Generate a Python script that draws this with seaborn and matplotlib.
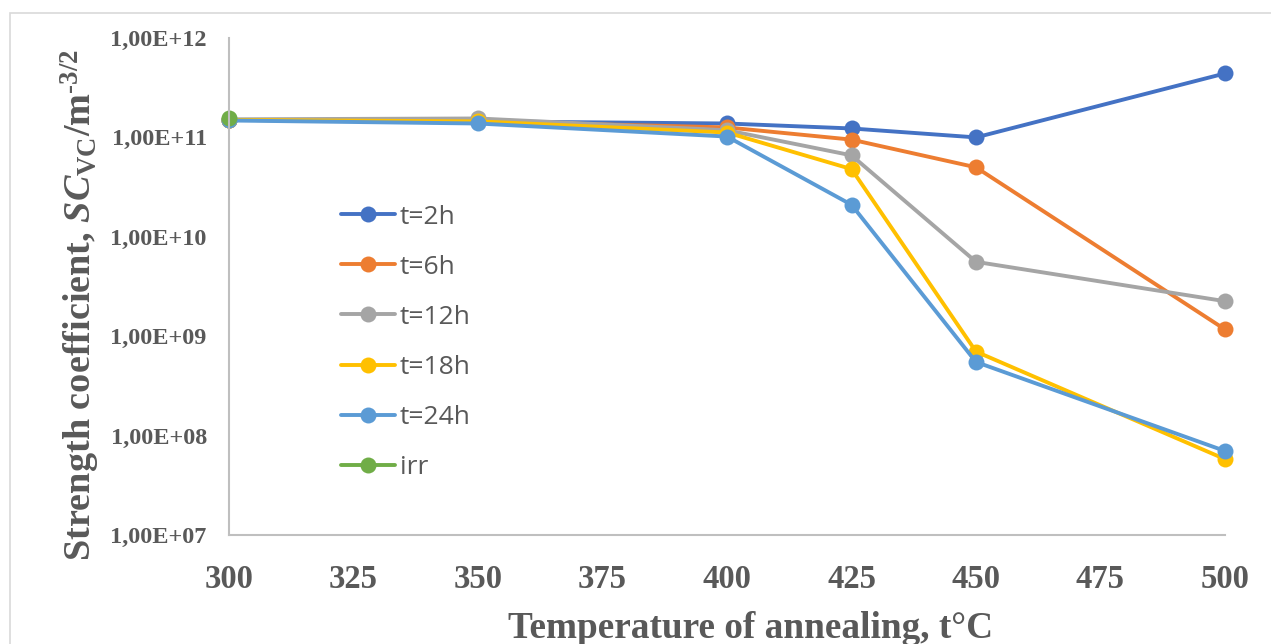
import matplotlib
matplotlib.use("Agg")
import matplotlib.pyplot as plt
from matplotlib.patches import Rectangle
from matplotlib.lines import Line2D
from matplotlib.ticker import FixedLocator, FuncFormatter, NullLocator
import seaborn as sns
import pandas as pd
import numpy as np

# ---- data ----
temps = [300, 350, 400, 425, 450, 500]
t2h = [1.50e11, 1.45e11, 1.38e11, 1.23e11, 1.00e11, 4.4e11]
t6h = [1.50e11, 1.45e11, 1.26e11, 9.5e10, 5.0e10, 1.17e9]
t12h = [1.52e11, 1.55e11, 1.18e11, 6.6e10, 5.6e9, 2.25e9]
t18h = [1.50e11, 1.45e11, 1.12e11, 4.8e10, 7.0e8, 5.8e7]
t24h = [1.48e11, 1.38e11, 1.02e11, 2.1e10, 5.5e8, 7.0e7]
irr_temps = [300]
irr = [1.58e11]

series_names = ["t=2h", "t=6h", "t=12h", "t=18h", "t=24h", "irr"]
colors = ["#4472C4", "#ED7D31", "#A5A5A5", "#FFC000", "#5B9BD5", "#70AD47"]
xticks = [300, 325, 350, 375, 400, 425, 450, 475, 500]
yticks = [1e7, 1e8, 1e9, 1e10, 1e11, 1e12]

rows = []
for name, vals in zip(series_names[:5], [t2h, t6h, t12h, t18h, t24h]):
    for t, v in zip(temps, vals):
        rows.append({"T": t, "SC": v, "series": name})
for t, v in zip(irr_temps, irr):
    rows.append({"T": t, "SC": v, "series": "irr"})
df = pd.DataFrame(rows)

sns.set_theme(style="white")
plt.rcParams["mathtext.fontset"] = "custom"
plt.rcParams["mathtext.rm"] = "Liberation Serif:bold"
plt.rcParams["mathtext.it"] = "Liberation Serif:italic:bold"
plt.rcParams["mathtext.bf"] = "Liberation Serif:bold"

W, H = 1271, 644
fig = plt.figure(figsize=(W / 100, H / 100), dpi=100)
ax = fig.add_axes([229 / W, 1 - 535 / H, (1225 - 229) / W, (535 - 38) / H])

palette = dict(zip(series_names, colors))
sns.lineplot(data=df, x="T", y="SC", hue="series", hue_order=series_names,
             palette=palette, marker="o", markersize=11.5, markeredgewidth=0,
             linewidth=2.8, ax=ax, legend=False, sort=False)
for ln in ax.get_lines():
    ln.set_clip_on(False)

ax.set_yscale("log")
ax.set_xlim(300, 500)
ax.set_ylim(1e7, 1e12)
ax.xaxis.set_major_locator(FixedLocator(xticks))
ax.yaxis.set_major_locator(FixedLocator(yticks))
ax.yaxis.set_minor_locator(NullLocator())
ax.yaxis.set_major_formatter(FuncFormatter(lambda v, p: "1,00E+%02d" % int(round(np.log10(v)))))

gray = "#595959"
for lab in ax.get_xticklabels():
    lab.set_fontfamily("Liberation Serif")
    lab.set_fontweight("bold")
    lab.set_fontsize(23.5)
    lab.set_color(gray)
for lab in ax.get_yticklabels():
    lab.set_fontfamily("Liberation Serif")
    lab.set_fontweight("bold")
    lab.set_fontsize(17.5)
    lab.set_color(gray)
ax.tick_params(axis="x", length=0, pad=21)
ax.tick_params(axis="y", length=0, pad=16)

for s in ["top", "right"]:
    ax.spines[s].set_visible(False)
for s in ["left", "bottom"]:
    ax.spines[s].set_color("#BFBFBF")
    ax.spines[s].set_linewidth(1.5)
ax.grid(False)
ax.set_xlabel("")
ax.set_ylabel("")

fig.text(751 / W, 1 - 628 / H, "Temperature of annealing, t°C", ha="center", va="center",
         fontfamily="Liberation Serif", fontweight="bold", fontsize=26.8, color=gray)
fig.text(80 / W, 1 - 305 / H,
         "Strength coefficient, $\\mathit{SC}_{\\mathrm{VC}}\\mathrm{/m}^{\\mathrm{\u20103/2}}$",
         rotation=90, ha="center", va="center",
         fontfamily="Liberation Serif", fontweight="bold", fontsize=27.5, color=gray)

handles = [Line2D([0], [0], color=c, lw=2.8, marker="o", markersize=11.5, markeredgewidth=0)
           for c in colors]
leg = ax.legend(handles, series_names, loc="upper left",
                bbox_to_anchor=((330 - 229) / (1225 - 229), (535 - 194) / (535 - 38)),
                frameon=False, prop={"family": "Open Sans", "size": 19},
                labelspacing=0.95, handlelength=2.05, handletextpad=0.2, borderaxespad=0)
for t in leg.get_texts():
    t.set_color(gray)

fig.patches.append(Rectangle((10 / W, -0.1), 1.5, 1 - 13 / H + 0.1, transform=fig.transFigure,
                             fill=False, edgecolor="#D9D9D9", linewidth=1.2))

fig.savefig("out.png", dpi=100)
